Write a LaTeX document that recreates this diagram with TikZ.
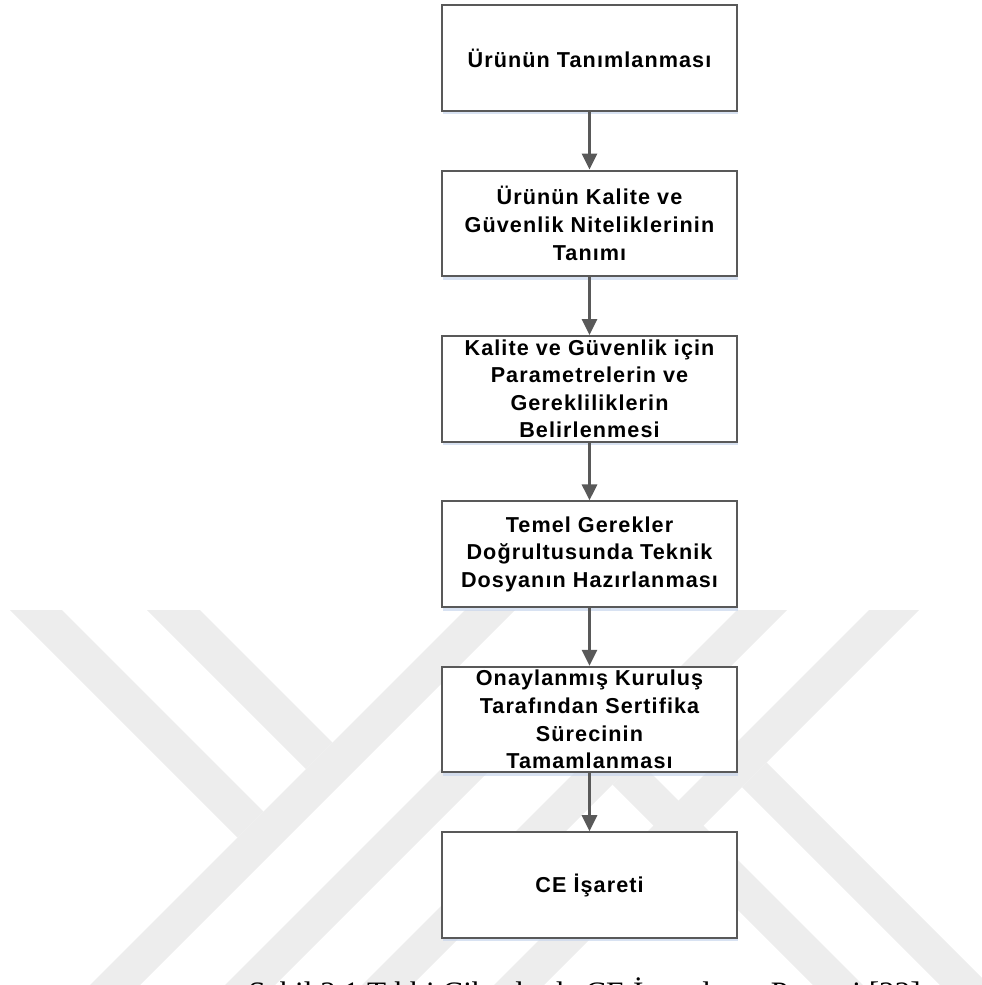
\documentclass[tikz,border=0pt]{standalone}
\usepackage{fontspec}
\setmainfont{Liberation Serif}
\newfontfamily\flowfont[LetterSpace=5]{Liberation Sans}
\usetikzlibrary{positioning,arrows.meta,shadows}
\definecolor{shadowblue}{RGB}{200,214,236}

\begin{document}
\begin{tikzpicture}[
        x=0.5pt,
        y=-0.5pt,
        node distance=28.9pt,
        watermark/.style={fill=black!7},
        stage/.style={
            draw=black!65,
            line width=1pt,
            fill=white,
            inner xsep=4pt,
            inner ysep=0pt,
            minimum width=147.5pt,
            minimum height=52.8pt,
            align=center,
            font=\flowfont\bfseries\fontsize{10.8pt}{13.8pt}\selectfont,
            drop shadow={shadow xshift=0.6pt, shadow yshift=-1.8pt, fill=shadowblue, opacity=0.7}
        },
        flow/.style={
            draw=black!65,
            line width=1.5pt,
            -{Triangle[length=8pt,width=7.5pt]}
        }
    ]

    \useasboundingbox (0,0) rectangle (981,985);

    % faint watermark behind the chart
    \path[watermark] (10,610) -- (62,610) -- (263.5,811.5) -- (237.5,837.5) -- cycle;
    \path[watermark] (147,610) -- (200,610) -- (332.5,742.5) -- (306,769) -- cycle;
    \path[watermark] (465,610) -- (515,610) -- (140,985) -- (90,985) -- cycle;
    \path[watermark] (510,700) -- (560,700) -- (275,985) -- (225,985) -- cycle;
    \path[watermark] (737,610) -- (787,610) -- (412,985) -- (362,985) -- cycle;
    \path[watermark] (869,610) -- (919,610) -- (544,985) -- (494,985) -- cycle;
    \path[watermark] (742,787) -- (766.5,762.5) -- (989,985) -- (940,985) -- cycle;
    \path[watermark] (612.5,784.5) -- (637.5,759.5) -- (863,985) -- (813,985) -- cycle;

    \node[stage] (define) at (589.5,58) {Ürünün Tanımlanması};
    \node[stage, below=of define] (quality) {Ürünün Kalite ve\\Güvenlik Niteliklerinin\\Tanımı};
    \node[stage, below=of quality] (params) {Kalite ve Güvenlik için\\Parametrelerin ve\\Gerekliliklerin\\Belirlenmesi};
    \node[stage, below=of params] (techfile) {Temel Gerekler\\Doğrultusunda Teknik\\Dosyanın Hazırlanması};
    \node[stage, below=of techfile] (certify) {Onaylanmış Kuruluş\\Tarafından Sertifika\\Sürecinin\\Tamamlanması};
    \node[stage, below=of certify] (mark) {CE İşareti};

    \draw[flow] (define) -- (quality);
    \draw[flow] (quality) -- (params);
    \draw[flow] (params) -- (techfile);
    \draw[flow] (techfile) -- (certify);
    \draw[flow] (certify) -- (mark);

    \node[anchor=base, font=\fontsize{15.6pt}{18pt}\selectfont] (caption) at (584.5,1003)
        {Şekil 2.1 Tıbbi Cihazlarda CE İşaretleme Prosesi [22]};

\end{tikzpicture}
\end{document}
